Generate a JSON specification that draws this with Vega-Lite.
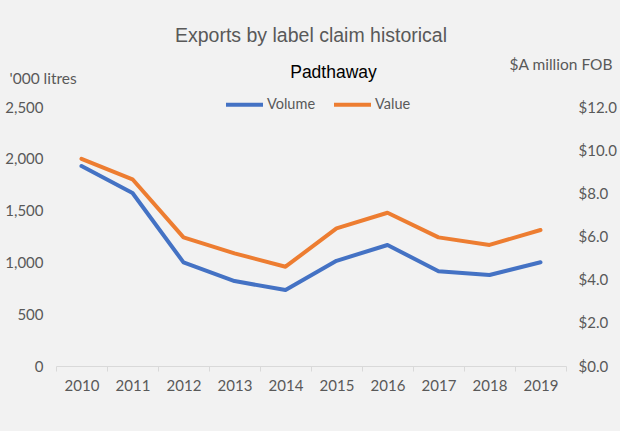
{
  "$schema": "https://vega.github.io/schema/vega-lite/v6.json",
  "width": 510,
  "height": 259,
  "autosize": {"type": "none"},
  "padding": {"left": 56, "top": 107, "right": 54, "bottom": 65},
  "background": "#F2F2F2",
  "title": {
    "text": "Exports by label claim historical",
    "font": "Liberation Sans",
    "fontSize": 19.5,
    "fontWeight": "normal",
    "color": "#595959",
    "anchor": "middle",
    "offset": 11
  },
  "config": {
    "view": {"stroke": null},
    "axis": {
      "labelFont": "Lato",
      "labelFontSize": 15,
      "labelColor": "#595959",
      "titleFont": "Lato",
      "titleFontSize": 15.5,
      "titleColor": "#595959",
      "titleFontWeight": "normal",
      "grid": false
    },
    "legend": {
      "labelFont": "Lato",
      "labelFontSize": 14.5,
      "labelColor": "#595959"
    }
  },
  "data": {
    "values": [
      {"year": "2010", "volume": 1930, "value": 9.60},
      {"year": "2011", "volume": 1670, "value": 8.65},
      {"year": "2012", "volume": 1000, "value": 5.96},
      {"year": "2013", "volume": 820, "value": 5.22},
      {"year": "2014", "volume": 733, "value": 4.60},
      {"year": "2015", "volume": 1015, "value": 6.38},
      {"year": "2016", "volume": 1168, "value": 7.10},
      {"year": "2017", "volume": 915, "value": 5.96},
      {"year": "2018", "volume": 878, "value": 5.61},
      {"year": "2019", "volume": 1002, "value": 6.30}
    ]
  },
  "encoding": {
    "x": {
      "field": "year",
      "type": "ordinal",
      "scale": {"type": "band", "paddingInner": 0, "paddingOuter": 0},
      "bandPosition": 0.5,
      "axis": {
        "title": "Padthaway",
        "titleFont": "Liberation Sans",
        "titleFontSize": 17.5,
        "titleColor": "#000000",
        "titleX": 277,
        "titleY": -294,
        "titleAlign": "center",
        "titleBaseline": "middle",
        "labelAngle": 0,
        "labelPadding": 7,
        "domainColor": "#D9D9D9",
        "domainWidth": 1,
        "tickColor": "#D9D9D9",
        "tickSize": 5,
        "tickBand": "extent"
      }
    }
  },
  "layer": [
    {
      "mark": {"type": "line", "strokeWidth": 4, "strokeCap": "round", "strokeJoin": "round"},
      "encoding": {
        "y": {
          "field": "volume",
          "type": "quantitative",
          "scale": {"domain": [0, 2500], "nice": false},
          "axis": {
            "title": "'000 litres",
            "titleAngle": 0,
            "titleX": -47,
            "titleY": -29,
            "titleAlign": "left",
            "titleBaseline": "middle",
            "values": [0, 500, 1000, 1500, 2000, 2500],
            "format": ",.0f",
            "domain": false,
            "ticks": false,
            "labelPadding": 13
          }
        },
        "color": {
          "datum": "Volume",
          "type": "nominal",
          "scale": {"domain": ["Volume", "Value"], "range": ["#4472C4", "#ED7D31"]},
          "legend": {
            "title": null,
            "orient": "none",
            "direction": "horizontal",
            "legendX": 168,
            "legendY": -23,
            "symbolType": "stroke",
            "symbolSize": 1369,
            "symbolStrokeWidth": 4,
            "labelOffset": 2,
            "columnPadding": 10
          }
        }
      }
    },
    {
      "mark": {"type": "line", "strokeWidth": 4, "strokeCap": "round", "strokeJoin": "round"},
      "encoding": {
        "y": {
          "field": "value",
          "type": "quantitative",
          "scale": {"domain": [0, 12], "nice": false},
          "axis": {
            "orient": "right",
            "title": "$A million FOB",
            "titleAngle": 0,
            "titleX": 46,
            "titleY": -43,
            "titleAlign": "right",
            "titleBaseline": "middle",
            "values": [0, 2, 4, 6, 8, 10, 12],
            "format": "$.1f",
            "domain": false,
            "ticks": false,
            "labelPadding": 12
          }
        },
        "color": {"datum": "Value", "type": "nominal"}
      }
    }
  ],
  "resolve": {"scale": {"y": "independent"}}
}
